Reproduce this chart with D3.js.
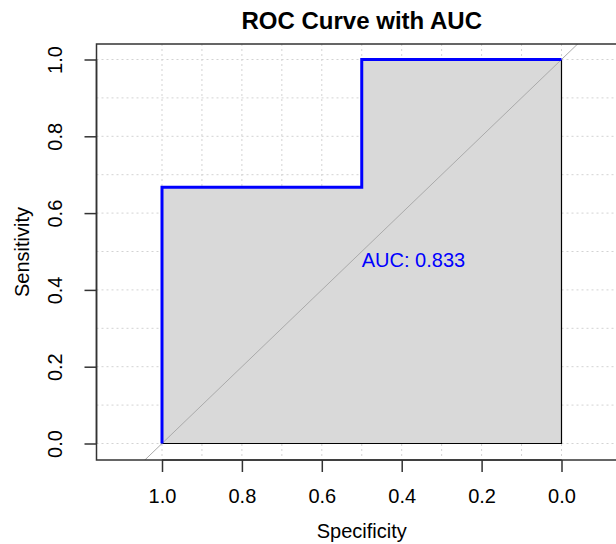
<!DOCTYPE html>
<html>
<head>
<meta charset="utf-8">
<script src="https://cdn.jsdelivr.net/npm/d3@7"></script>
<style>
  html, body { margin: 0; padding: 0; background: #fff; }
  svg { display: block; font-family: "Liberation Sans", Arial, sans-serif; }
</style>
</head>
<body>
<svg id="chart" width="616" height="544"></svg>
<script>
// ---- data ----
const titleText = "ROC Curve with AUC";
const xLabel = "Specificity";
const yLabel = "Sensitivity";
const specificity = [1.0, 1.0, 0.5, 0.5, 0.0];
const sensitivity = [0.0, 0.667, 0.667, 1.0, 1.0];
const aucValue = 0.833;
const xTicks = [1.0, 0.8, 0.6, 0.4, 0.2, 0.0];
const yTicks = [0.0, 0.2, 0.4, 0.6, 0.8, 1.0];
const gridValues = [0, 0.1, 0.2, 0.3, 0.4, 0.5, 0.6, 0.7, 0.8, 0.9, 1.0];

// ---- layout ----
const svg = d3.select("#chart");
const x = d3.scaleLinear().domain([1, 0]).range([162, 561.5]);
const y = d3.scaleLinear().domain([0, 1]).range([443.5, 59.5]);
const box = { left: 96.5, right: 627, top: 44, bottom: 460 };

svg.append("defs").append("clipPath").attr("id", "clip")
  .append("rect").attr("x", box.left).attr("y", box.top)
  .attr("width", box.right - box.left).attr("height", box.bottom - box.top);

const plot = svg.append("g").attr("clip-path", "url(#clip)");

// grid
plot.selectAll("line.vg").data(gridValues).join("line")
  .attr("x1", d => x(d)).attr("x2", d => x(d))
  .attr("y1", box.top).attr("y2", box.bottom)
  .attr("stroke", "#d3d3d3").attr("stroke-width", 1).attr("stroke-dasharray", "2,3");
plot.selectAll("line.hg").data(gridValues).join("line")
  .attr("x1", box.left).attr("x2", box.right)
  .attr("y1", d => y(d)).attr("y2", d => y(d))
  .attr("stroke", "#d3d3d3").attr("stroke-width", 1).attr("stroke-dasharray", "2,3");

// AUC polygon
const pts = specificity.map((s, i) => [x(s), y(sensitivity[i])]);
const polyPts = pts.concat([[x(0), y(0)]]);
plot.append("polygon")
  .attr("points", polyPts.map(p => p.join(",")).join(" "))
  .attr("fill", "#d9d9d9").attr("stroke", "#000").attr("stroke-width", 1.2);

// diagonal
plot.append("line")
  .attr("x1", x(1.3)).attr("y1", y(-0.3))
  .attr("x2", x(-0.3)).attr("y2", y(1.3))
  .attr("stroke", "#aaaaaa").attr("stroke-width", 1);

// ROC curve
plot.append("path")
  .attr("d", d3.line()(pts))
  .attr("fill", "none").attr("stroke", "#0000ff").attr("stroke-width", 3)
  .attr("stroke-linejoin", "miter");

// AUC text
svg.append("text")
  .attr("x", x(0.5)).attr("y", y(0.5) + 15)
  .attr("fill", "#0000ff").attr("font-size", 20)
  .text("AUC: " + aucValue.toFixed(3));

// box
svg.append("rect")
  .attr("x", box.left).attr("y", box.top)
  .attr("width", box.right - box.left).attr("height", box.bottom - box.top)
  .attr("fill", "none").attr("stroke", "#333").attr("stroke-width", 1.5);

// x axis
const xAxis = d3.axisBottom(x).tickValues(xTicks).tickSize(12).tickPadding(0)
  .tickFormat(d3.format(".1f"));
const gx = svg.append("g").attr("transform", `translate(0,${box.bottom})`).call(xAxis);
gx.select(".domain").attr("stroke", "#333").attr("stroke-width", 1.5)
  .attr("d", `M${x(1)},0H${x(0)}`);
gx.selectAll(".tick line").attr("stroke", "#333").attr("stroke-width", 1.5);
gx.selectAll(".tick text").attr("font-size", 20).attr("fill", "#000")
  .attr("font-family", "Liberation Sans, Arial, sans-serif")
  .attr("dy", null).attr("y", 42.5);

// y axis
const yAxis = d3.axisLeft(y).tickValues(yTicks).tickSize(12).tickPadding(0)
  .tickFormat(d3.format(".1f"));
const gy = svg.append("g").attr("transform", `translate(${box.left},0)`).call(yAxis);
gy.select(".domain").attr("stroke", "#333").attr("stroke-width", 1.5)
  .attr("d", `M0,${y(0)}V${y(1)}`);
gy.selectAll(".tick line").attr("stroke", "#333").attr("stroke-width", 1.5);
gy.selectAll(".tick text").attr("font-size", 20).attr("fill", "#000")
  .attr("font-family", "Liberation Sans, Arial, sans-serif")
  .attr("x", null).attr("dy", null)
  .attr("text-anchor", "middle")
  .attr("transform", "translate(-35,0) rotate(-90)");

// title
svg.append("text")
  .attr("x", (box.left + box.right) / 2).attr("y", 28.5)
  .attr("text-anchor", "middle").attr("font-size", 24).attr("font-weight", "bold")
  .attr("fill", "#000").text(titleText);

// axis labels
svg.append("text")
  .attr("x", (box.left + box.right) / 2).attr("y", 538)
  .attr("text-anchor", "middle").attr("font-size", 20).attr("fill", "#000")
  .text(xLabel);
svg.append("text")
  .attr("transform", `translate(28.5,${(box.top + box.bottom) / 2}) rotate(-90)`)
  .attr("text-anchor", "middle").attr("font-size", 20).attr("fill", "#000")
  .text(yLabel);
</script>
</body>
</html>
